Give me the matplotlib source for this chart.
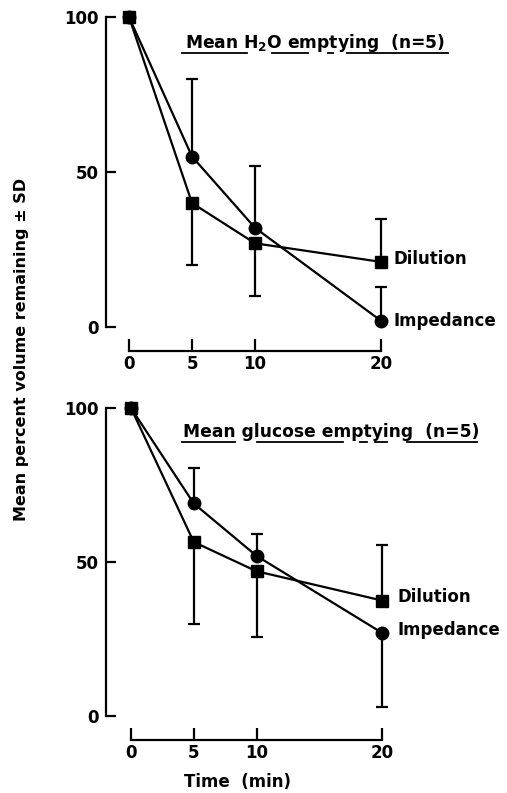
import matplotlib.pyplot as plt
import numpy as np

plt.rcParams['font.family'] = 'DejaVu Sans'
plt.rcParams['font.weight'] = 'bold'

# sampling times (min)
times = [0, 5, 10, 20]
tick_y = [0, 50, 100]

# H2O emptying, mean percent volume remaining
h2o_dilution = [100, 40, 27, 21]
h2o_dil_sd_low = [0, 20, 17, 0]
h2o_dil_sd_up = [0, 0, 0, 14]
h2o_impedance = [100, 55, 32, 2]
h2o_imp_sd_low = [0, 0, 0, 0]
h2o_imp_sd_up = [0, 25, 20, 11]

# glucose emptying
glu_dilution = [100, 56.5, 47, 37.5]
glu_dil_sd_low = [0, 26.5, 21.5, 0]
glu_dil_sd_up = [0, 0, 0, 18]
glu_impedance = [100, 69, 52, 27]
glu_imp_sd_low = [0, 0, 0, 24]
glu_imp_sd_up = [0, 11.5, 7, 0]

W, H = 507, 793
fig = plt.figure(figsize=(W / 100, H / 100), dpi=100)


def panel(x0, x20, y0, y100, sx, sy):
  """Place an axes so data (0..20, 0..100) lands on the given pixel spots."""
  kx = (x20 - x0) / 20.0
  ky = (y0 - y100) / 100.0
  xmin, xmax = (sx - x0) / kx, 24
  ymin, ymax = -(sy - y0) / ky, 104
  left, right = sx, x0 + xmax * kx
  bottom, top = sy, y0 - ymax * ky
  ax = fig.add_axes([left / W, 1 - bottom / H, (right - left) / W, (bottom - top) / H])
  ax.set_xlim(xmin, xmax)
  ax.set_ylim(ymin, ymax)
  for s in ['top', 'right']:
    ax.spines[s].set_visible(False)
  ax.spines['left'].set_bounds(0, 100)
  ax.spines['bottom'].set_bounds(0, 20)
  for s in ['left', 'bottom']:
    ax.spines[s].set_linewidth(1.6)
  ax.set_xticks(times)
  ax.set_yticks(tick_y)
  ax.tick_params(axis='y', direction='in', length=7, width=1.6, pad=5, labelsize=12)
  ax.tick_params(axis='x', direction='in', length=9, width=1.6, pad=3, labelsize=12)
  return ax


def draw(ax, dil, dl, du, imp, il, iu):
  kw = dict(color='black', linewidth=1.6, elinewidth=1.6, capsize=4.5, capthick=1.6, clip_on=False)
  ax.errorbar(times, imp, yerr=[il, iu], marker='o', markersize=9, **kw)
  ax.errorbar(times, dil, yerr=[dl, du], marker='s', markersize=9, **kw)


def underline(segments, py):
  for a, b in segments:
    fig.add_artist(plt.Line2D([a / W, b / W], [1 - py / H, 1 - py / H], color='black', linewidth=1.3))


ax1 = panel(129, 381, 327, 17, 106, 351)
draw(ax1, h2o_dilution, h2o_dil_sd_low, h2o_dil_sd_up, h2o_impedance, h2o_imp_sd_low, h2o_imp_sd_up)
ax1.text(21, h2o_dilution[-1] + 1, 'Dilution', fontsize=12, va='center')
ax1.text(21, h2o_impedance[-1], 'Impedance', fontsize=12, va='center')
fig.text(185 / W, 1 - 43 / H, 'Mean H$_\\mathbf{2}$O emptying  (n=5)', fontsize=12.3, va='center')
underline([(182, 247), (272, 308), (328, 333), (347, 448)], 53)

ax2 = panel(131, 382, 716, 408, 106, 740)
draw(ax2, glu_dilution, glu_dil_sd_low, glu_dil_sd_up, glu_impedance, glu_imp_sd_low, glu_imp_sd_up)
ax2.text(21.2, glu_dilution[-1] + 1, 'Dilution', fontsize=12, va='center')
ax2.text(21.2, glu_impedance[-1] + 1, 'Impedance', fontsize=12, va='center')
fig.text(183 / W, 1 - 432 / H, 'Mean glucose emptying  (n=5)', fontsize=12.3, va='center')
underline([(182, 235), (257, 343), (360, 367), (375, 387), (407, 477)], 442)

fig.text(238 / W, 1 - 782 / H, 'Time  (min)', fontsize=12, ha='center', va='center')
fig.text(22 / W, 1 - 349 / H, 'Mean percent volume remaining ± SD', fontsize=11.5,
         rotation=90, ha='center', va='center')

plt.savefig('out.png', dpi=100)
